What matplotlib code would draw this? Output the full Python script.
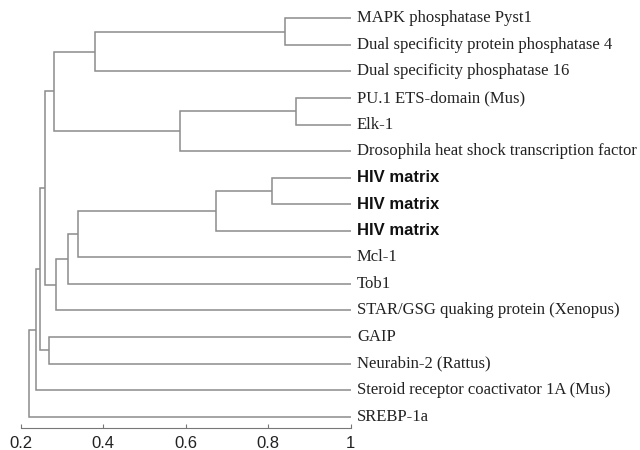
import matplotlib
matplotlib.use("Agg")
import matplotlib.pyplot as plt

# Leaves (top to bottom)
labels = [
    "MAPK phosphatase Pyst1",
    "Dual specificity protein phosphatase 4",
    "Dual specificity phosphatase 16",
    "PU.1 ETS-domain (Mus)",
    "Elk-1",
    "Drosophila heat shock transcription factor",
    "HIV matrix",
    "HIV matrix",
    "HIV matrix",
    "Mcl-1",
    "Tob1",
    "STAR/GSG quaking protein (Xenopus)",
    "GAIP",
    "Neurabin-2 (Rattus)",
    "Steroid receptor coactivator 1A (Mus)",
    "SREBP-1a",
]
bold_labels = [False] * 6 + [True] * 3 + [False] * 7

# Merges: (child a, child b, similarity). Leaves are 0..15, new nodes numbered from 16
merge_a = [0, 3, 6, 18, 16, 17, 19, 22, 23, 12, 20, 26, 27, 28, 29]
merge_b = [1, 4, 7, 8, 2, 5, 9, 10, 11, 13, 21, 24, 25, 14, 15]
merge_h = [0.841, 0.867, 0.810, 0.673, 0.380, 0.586, 0.338, 0.314, 0.286,
           0.269, 0.281, 0.259, 0.247, 0.236, 0.220]

ticks = [0.2, 0.4, 0.6, 0.8, 1.0]
tick_labels = ["0.2", "0.4", "0.6", "0.8", "1"]

line_color = "#8c8c8c"

fig = plt.figure(figsize=(6.4, 4.5), dpi=100)
ax = fig.add_axes([20.7 / 640, (450 - 427.7) / 450, (350.7 - 20.7) / 640, 427.7 / 450])

n = len(labels)
xpos = {i: 1.0 for i in range(n)}
ypos = {i: float(i + 1) for i in range(n)}

node = n
for a, b, h in zip(merge_a, merge_b, merge_h):
    ya, yb = ypos[a], ypos[b]
    ax.plot([xpos[a], h, h, xpos[b]], [ya, ya, yb, yb], color=line_color, lw=1.1,
            solid_joinstyle="miter", solid_capstyle="butt")
    xpos[node] = h
    ypos[node] = (ya + yb) / 2
    node += 1

for i, lab in enumerate(labels):
    if bold_labels[i]:
        ax.annotate(lab, (1.0, i + 1), xytext=(4.5, 0), textcoords="offset points",
                    va="center", ha="left", fontsize=12, fontweight="bold",
                    family="Liberation Sans", color="#111111", annotation_clip=False)
    else:
        ax.annotate(lab, (1.0, i + 1), xytext=(4.5, 0), textcoords="offset points",
                    va="center", ha="left", fontsize=12,
                    family="Liberation Serif", color="#222222", annotation_clip=False)

ax.set_xlim(0.2, 1.0)
ax.set_ylim(16.414, 0.311)
for s in ["top", "right", "left"]:
    ax.spines[s].set_visible(False)
ax.spines["bottom"].set_color("#777777")
ax.spines["bottom"].set_linewidth(0.8)
ax.set_yticks([])
ax.set_xticks(ticks)
ax.set_xticklabels(tick_labels, family="Liberation Sans", fontsize=12, color="#222222")
ax.tick_params(axis="x", direction="in", length=3, color="#777777", pad=6)

fig.savefig("out.png", dpi=100)
